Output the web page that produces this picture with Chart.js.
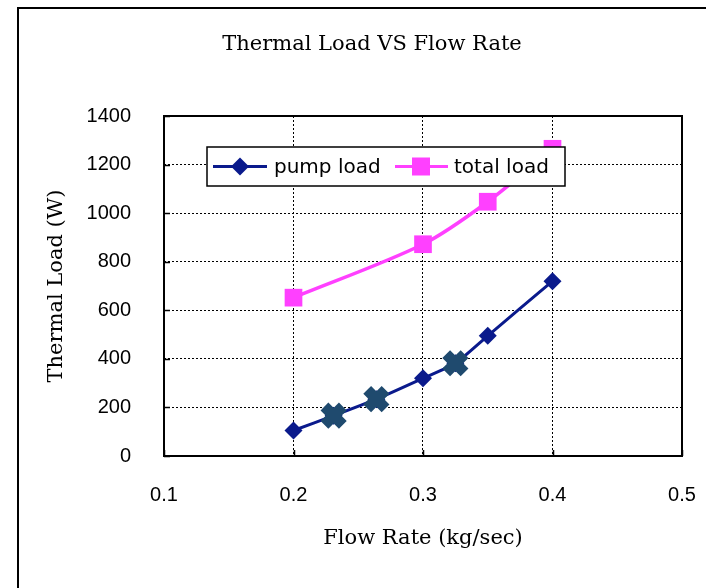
<!DOCTYPE html>
<html>
<head>
<meta charset="utf-8">
<script src="https://cdn.jsdelivr.net/npm/chart.js@4.4.0/dist/chart.umd.min.js"></script>
<style>
  html, body { margin: 0; padding: 0; background: #fff; }
  #caixa { position: relative; width: 706px; height: 588px; overflow: hidden; }
  #moldura { position: absolute; left: 17px; top: 7px; width: 740px; height: 640px; border: 2px solid #000; }
  #graficoCarga { position: absolute; left: 0; top: 0; }
</style>
</head>
<body>
<div id="caixa">
  <canvas id="graficoCarga" width="706" height="588"></canvas>
  <div id="moldura"></div>
</div>
<script>
// DADOS
const vazaoBomba = [0.2, 0.231, 0.264, 0.3, 0.325, 0.35, 0.4];
const cargaBomba = [105, 166, 234, 320, 382, 495, 720];
const vazaoTotal = [0.2, 0.3, 0.35, 0.4];
const cargaTotal = [652, 872, 1047, 1265];
const vazaoMarcada = [0.231, 0.264, 0.325];
const cargaMarcada = [166, 234, 382];
const ticksX = [0.1, 0.2, 0.3, 0.4, 0.5];
const ticksY = [0, 200, 400, 600, 800, 1000, 1200, 1400];
const nomesSeries = ['pump load', 'total load'];

const corBomba = '#0a1a8c';
const corTotal = '#ff40ff';
const corMarca = '#1f4a6e';
const fonteSerif = '"DejaVu Serif", serif';
const fonteSans = '"Liberation Sans", Arial, sans-serif';

function pontos(xs, ys) {
  return xs.map((x, i) => ({ x: x, y: ys[i] }));
}

// titulo, moldura do grafico, ticks internos e legenda
const extras = {
  id: 'extras',
  beforeDraw(chart) {
    const ctx = chart.ctx;
    ctx.save();
    ctx.fillStyle = '#000';
    ctx.font = '21px ' + fonteSerif;
    ctx.textAlign = 'center';
    ctx.textBaseline = 'middle';
    ctx.fillText('Thermal Load VS Flow Rate', 372, 45);
    ctx.restore();
  },
  afterDatasetsDraw(chart) {
    const ctx = chart.ctx;
    const area = chart.chartArea;
    const sx = chart.scales.x;
    const sy = chart.scales.y;
    ctx.save();
    ctx.strokeStyle = '#000';
    ctx.lineWidth = 2;
    ctx.setLineDash([]);
    ctx.strokeRect(area.left, area.top, area.right - area.left, area.bottom - area.top);

    ctx.lineWidth = 1.5;
    ctx.beginPath();
    ticksX.forEach(v => {
      const px = Math.round(sx.getPixelForValue(v)) + 0.5;
      ctx.moveTo(px, area.bottom);
      ctx.lineTo(px, area.bottom - 6);
    });
    ticksY.forEach(v => {
      const py = Math.round(sy.getPixelForValue(v)) + 0.5;
      ctx.moveTo(area.left, py);
      ctx.lineTo(area.left + 6, py);
    });
    ctx.stroke();

    // legenda
    const lx = 207, ly = 147, lw = 358, lh = 39;
    const meio = ly + lh / 2;
    ctx.fillStyle = '#fff';
    ctx.fillRect(lx, ly, lw, lh);
    ctx.lineWidth = 1.5;
    ctx.strokeRect(lx, ly, lw, lh);

    ctx.strokeStyle = corBomba;
    ctx.lineWidth = 3;
    ctx.beginPath();
    ctx.moveTo(213, meio);
    ctx.lineTo(267, meio);
    ctx.stroke();
    ctx.fillStyle = corBomba;
    ctx.beginPath();
    ctx.moveTo(240, meio - 9);
    ctx.lineTo(249, meio);
    ctx.lineTo(240, meio + 9);
    ctx.lineTo(231, meio);
    ctx.closePath();
    ctx.fill();

    ctx.strokeStyle = corTotal;
    ctx.beginPath();
    ctx.moveTo(395, meio);
    ctx.lineTo(448, meio);
    ctx.stroke();
    ctx.fillStyle = corTotal;
    ctx.fillRect(421 - 9, meio - 9, 18, 18);

    ctx.fillStyle = '#000';
    ctx.font = '20px "DejaVu Sans", sans-serif';
    ctx.textAlign = 'left';
    ctx.textBaseline = 'middle';
    ctx.fillText(nomesSeries[0], 274, meio + 1);
    ctx.fillText(nomesSeries[1], 454, meio + 1);
    ctx.restore();
  }
};

const grafico = document.getElementById('graficoCarga');
const graficoParaCarga = new Chart(grafico, {
  type: 'scatter',
  data: {
    datasets: [{
      label: 'marcas',
      data: pontos(vazaoMarcada, cargaMarcada),
      showLine: false,
      pointStyle: 'crossRot',
      pointRadius: 13,
      pointBorderWidth: 11,
      borderColor: corMarca,
      backgroundColor: corMarca,
      order: 0
    }, {
      label: nomesSeries[0],
      data: pontos(vazaoBomba, cargaBomba),
      showLine: true,
      tension: 0.2,
      borderColor: corBomba,
      backgroundColor: corBomba,
      borderWidth: 3,
      pointStyle: 'rectRot',
      pointRadius: 9,
      pointBorderWidth: 0,
      order: 1
    }, {
      label: nomesSeries[1],
      data: pontos(vazaoTotal, cargaTotal),
      showLine: true,
      tension: 0.3,
      borderColor: corTotal,
      backgroundColor: corTotal,
      borderWidth: 3.5,
      pointStyle: 'rect',
      pointRadius: 12.5,
      pointBorderWidth: 0,
      order: 2
    }]
  },
  options: {
    responsive: false,
    animation: false,
    layout: { padding: { top: 116, right: 24, left: 0, bottom: 0 } },
    plugins: {
      legend: { display: false },
      title: { display: false },
      tooltip: { enabled: false }
    },
    scales: {
      x: {
        type: 'linear',
        min: 0.1,
        max: 0.5,
        afterBuildTicks: s => { s.ticks = ticksX.map(v => ({ value: v })); },
        afterFit: s => { s.height = 132; s.paddingLeft = 0; s.paddingRight = 0; },
        ticks: {
          color: '#000',
          padding: 27,
          font: { family: fonteSans, size: 20 },
          callback: v => v.toFixed(1)
        },
        grid: { color: '#000', lineWidth: 1, drawTicks: false },
        border: { display: false, dash: [2, 2] },
        title: {
          display: true,
          text: 'Flow Rate (kg/sec)',
          color: '#000',
          font: { family: fonteSerif, size: 21 },
          padding: { top: 0, bottom: 37 }
        }
      },
      y: {
        min: 0,
        max: 1400,
        afterBuildTicks: s => { s.ticks = ticksY.map(v => ({ value: v })); },
        afterFit: s => { s.width = 164; },
        ticks: {
          color: '#000',
          padding: 33,
          font: { family: fonteSans, size: 20 },
          callback: v => String(v)
        },
        grid: { color: '#000', lineWidth: 1, drawTicks: false },
        border: { display: false, dash: [2, 2] },
        title: {
          display: true,
          text: 'Thermal Load (W)',
          color: '#000',
          font: { family: fonteSerif, size: 21 },
          padding: { top: 44, bottom: 0 }
        }
      }
    }
  },
  plugins: [extras]
});
</script>
</body>
</html>
